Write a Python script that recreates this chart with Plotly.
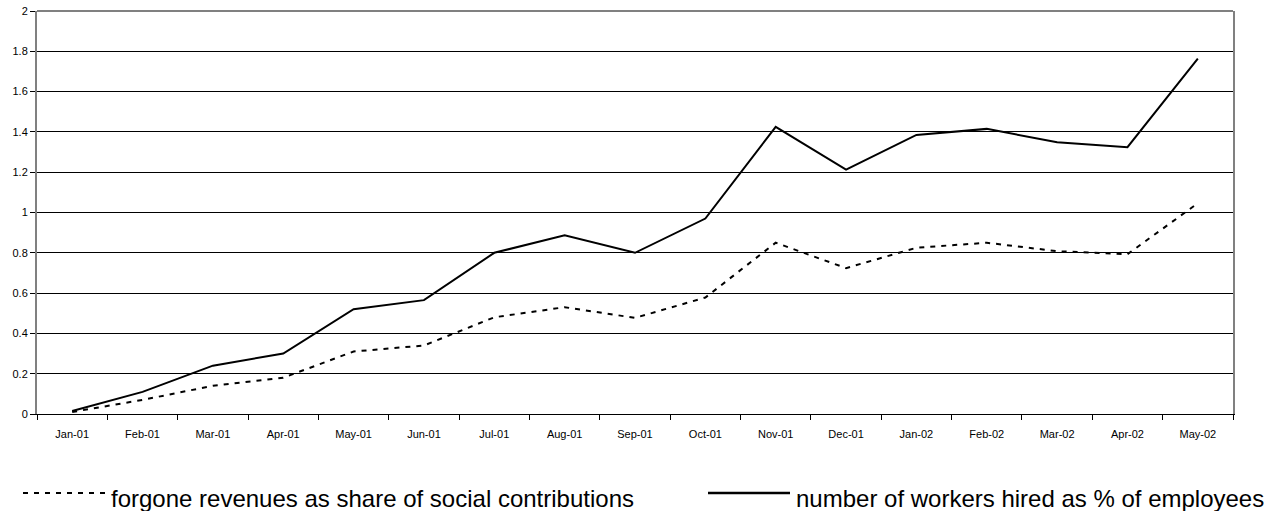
import plotly.graph_objects as go

months = ["Jan-01", "Feb-01", "Mar-01", "Apr-01", "May-01", "Jun-01", "Jul-01", "Aug-01",
          "Sep-01", "Oct-01", "Nov-01", "Dec-01", "Jan-02", "Feb-02", "Mar-02", "Apr-02", "May-02"]

forgone_revenues = [0.01, 0.07, 0.14, 0.18, 0.31, 0.34, 0.48, 0.53,
                    0.477, 0.578, 0.85, 0.724, 0.825, 0.85, 0.808, 0.793, 1.046]
workers_hired = [0.015, 0.11, 0.24, 0.30, 0.52, 0.565, 0.80, 0.887,
                 0.80, 0.97, 1.425, 1.213, 1.385, 1.415, 1.349, 1.324, 1.764]

name_forgone = "forgone revenues as share of social contributions"
name_workers = "number of workers hired as % of employees"

y_ticks = [0, 0.2, 0.4, 0.6, 0.8, 1, 1.2, 1.4, 1.6, 1.8, 2]
y_tick_text = ["0", "0.2", "0.4", "0.6", "0.8", "1", "1.2", "1.4", "1.6", "1.8", "2"]

FONT = "Arial, 'Liberation Sans', sans-serif"
DASH = "5px,6px"

W, H = 1278, 511
M_L, M_R, M_T, M_B = 37, 45, 11, 97
PW, PH = W - M_L - M_R, H - M_T - M_B


def px_x(x):
    return (x - M_L) / PW


def px_y(y):
    return (H - M_B - y) / PH


fig = go.Figure()
fig.add_trace(go.Scatter(x=months, y=forgone_revenues, mode="lines", name=name_forgone,
                         line=dict(color="black", width=2, dash=DASH)))
fig.add_trace(go.Scatter(x=months, y=workers_hired, mode="lines", name=name_workers,
                         line=dict(color="black", width=2)))

fig.update_layout(
    width=W, height=H,
    margin=dict(l=M_L, r=M_R, t=M_T, b=M_B, autoexpand=False),
    paper_bgcolor="white", plot_bgcolor="white",
    showlegend=False,
    font=dict(family=FONT, color="black"),
    xaxis=dict(type="category", tickson="boundaries", ticks="outside", ticklen=5,
               tickcolor="black", showline=True, linecolor="black", linewidth=1,
               showgrid=False, tickfont=dict(size=11), ticklabelstandoff=10,
               range=[-0.5, len(months) - 0.5], automargin=False),
    yaxis=dict(range=[0, 2], tickvals=y_ticks, ticktext=y_tick_text, ticks="outside",
               ticklen=5, tickcolor="black", showline=True, linecolor="#808080",
               linewidth=2, mirror=True, showgrid=True, gridcolor="black", gridwidth=1,
               zeroline=False, tickfont=dict(size=11), automargin=False),
)

# grey frame line along the top of the plot area
fig.add_shape(type="line", xref="paper", yref="paper", x0=0, x1=1, y0=1, y1=1,
              line=dict(color="#808080", width=2))

# Legend drawn below the plot: line samples plus labels
sample_y = px_y(493)
text_y = px_y(498)
fig.add_shape(type="line", xref="paper", yref="paper", x0=px_x(23), x1=px_x(107),
              y0=sample_y, y1=sample_y, line=dict(color="black", width=2, dash=DASH))
fig.add_annotation(xref="paper", yref="paper", x=px_x(109), y=text_y, text=name_forgone,
                   showarrow=False, xanchor="left", yanchor="middle",
                   font=dict(size=24, family=FONT))
fig.add_shape(type="line", xref="paper", yref="paper", x0=px_x(708), x1=px_x(790),
              y0=sample_y, y1=sample_y, line=dict(color="black", width=2.5))
fig.add_annotation(xref="paper", yref="paper", x=px_x(794), y=text_y, text=name_workers,
                   showarrow=False, xanchor="left", yanchor="middle",
                   font=dict(size=24, family=FONT))

fig.write_html("out.html")
